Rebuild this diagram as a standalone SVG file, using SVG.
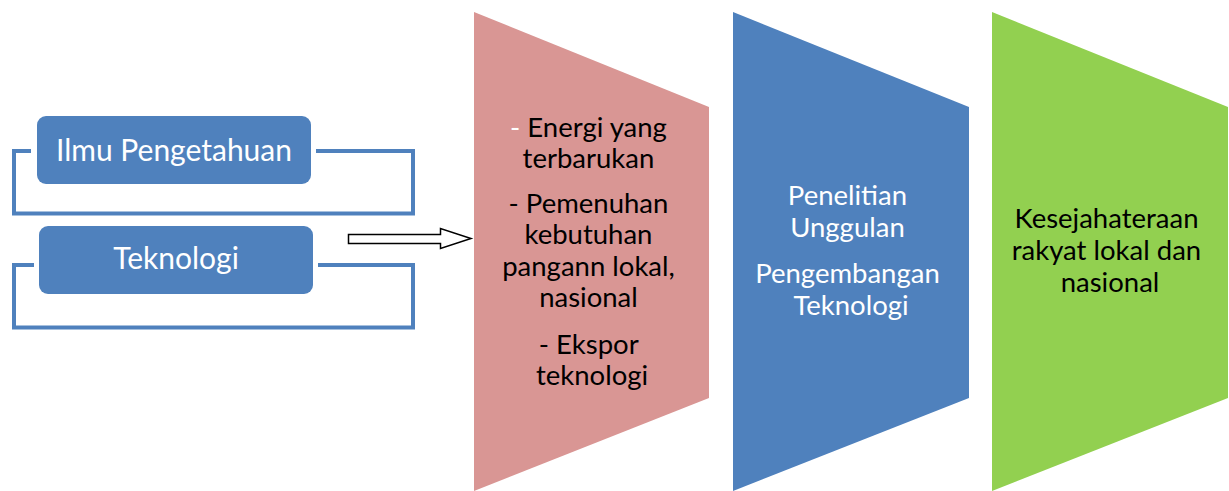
<svg xmlns="http://www.w3.org/2000/svg" width="1229" height="491" viewBox="0 0 1229 491">
  <style>
    .lbl { font-family: Lato, "Open Sans", sans-serif; font-size: 27.5px; text-anchor: middle; }
    .big { font-size: 30px; }
    .w { fill: #ffffff; }
    .k { fill: #000000; }
    .box { fill: #4F81BD; }
    .bracket { fill: none; stroke: #4F81BD; stroke-width: 4; stroke-linejoin: miter; }
  </style>

  <!-- input boxes with their open brackets -->
  <g id="node-ilmu">
    <path class="bracket" d="M31,151 H14 V213.5 H413 V151 H316"/>
    <rect class="box" x="37" y="116" width="274" height="68" rx="9"/>
    <text class="lbl big w" x="174" y="161">Ilmu Pengetahuan</text>
  </g>
  <g id="node-teknologi">
    <path class="bracket" d="M34,265 H14 V327.5 H413 V265 H318"/>
    <rect class="box" x="39" y="226" width="274" height="68" rx="9"/>
    <text class="lbl big w" x="176" y="269">Teknologi</text>
  </g>

  <!-- block arrow into the stages -->
  <g id="connectors">
    <path d="M348.5,234.5 H440.5 V228.5 L471,238.5 L440.5,248.5 V243.5 H348.5 Z" fill="#ffffff" stroke="#000000" stroke-width="1.5" stroke-linejoin="miter"/>
  </g>

  <!-- stage 1 -->
  <g id="node-stage1">
    <polygon points="474,12 709,107 709,398 474,491" fill="#D99694"/>
    <text class="lbl k">
      <tspan x="592" y="137"><tspan class="w">-</tspan> Energi yang</tspan>
      <tspan x="592" y="168">terbarukan</tspan>
      <tspan x="592" y="213">- Pemenuhan</tspan>
      <tspan x="592" y="244">kebutuhan</tspan>
      <tspan x="592" y="276">pangann lokal,</tspan>
      <tspan x="592" y="307">nasional</tspan>
      <tspan x="592" y="354">- Ekspor</tspan>
      <tspan x="592" y="385">teknologi</tspan>
    </text>
  </g>

  <!-- stage 2 -->
  <g id="node-stage2">
    <polygon points="733,12 969,107 969,398 733,491" fill="#4F81BD"/>
    <text class="lbl w">
      <tspan x="851" y="205">Penelitian</tspan>
      <tspan x="851" y="237">Unggulan</tspan>
      <tspan x="851" y="283">Pengembangan</tspan>
      <tspan x="851" y="315">Teknologi</tspan>
    </text>
  </g>

  <!-- stage 3 -->
  <g id="node-stage3">
    <polygon points="992,12 1228,107 1228,398 992,491" fill="#92D050"/>
    <text class="lbl k">
      <tspan x="1110" y="228">Kesejahateraan</tspan>
      <tspan x="1110" y="260">rakyat lokal dan</tspan>
      <tspan x="1110" y="292">nasional</tspan>
    </text>
  </g>
</svg>
